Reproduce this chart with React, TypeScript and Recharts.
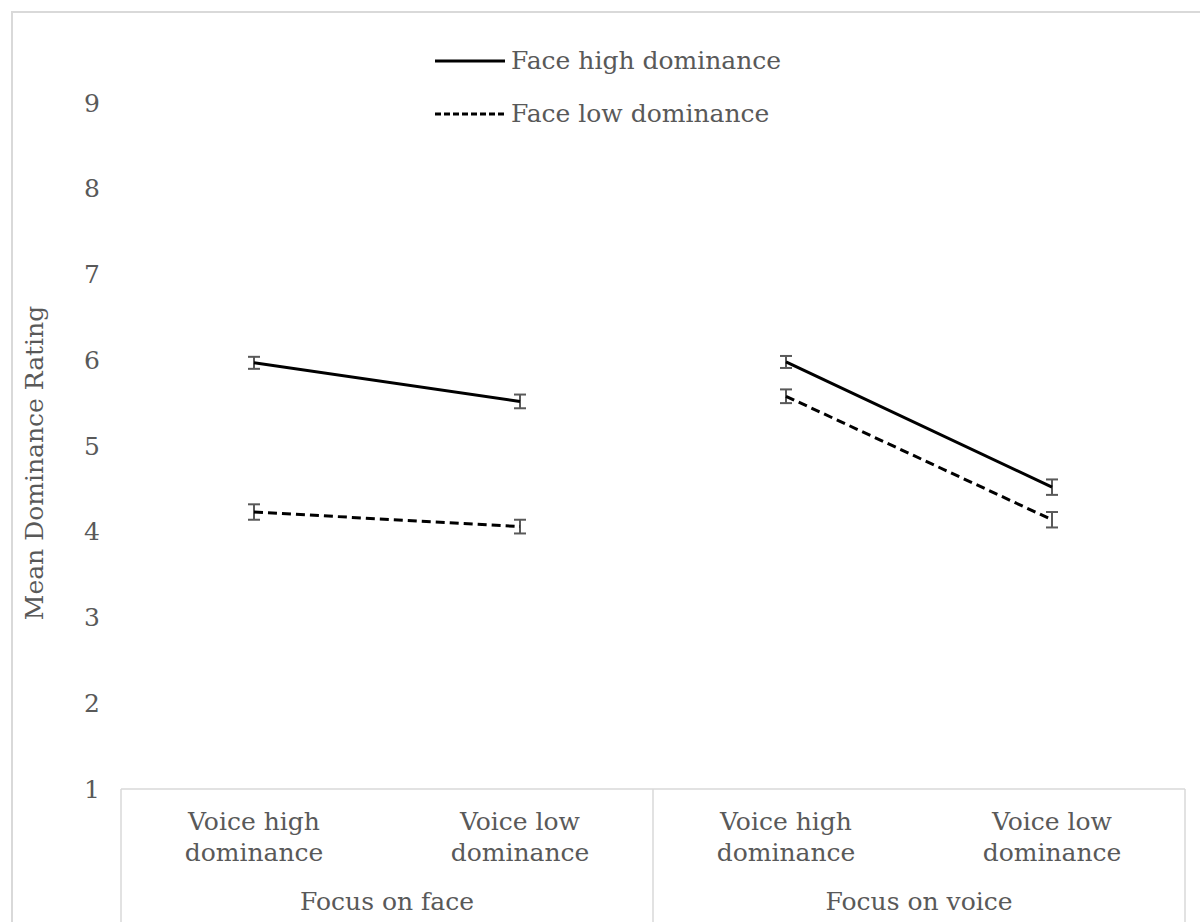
import React from 'react';
import { LineChart, Line, XAxis, YAxis, ErrorBar } from 'recharts';

const categories = ['Voice high dominance', 'Voice low dominance', 'Voice high dominance', 'Voice low dominance'];
const groups = ['Focus on face', 'Focus on voice'];
const yTicks = [1, 2, 3, 4, 5, 6, 7, 8, 9];

const faceHigh = [5.97, 5.52, 5.98, 4.52];
const faceHighErr = [0.07, 0.08, 0.07, 0.09];
const faceLow = [4.23, 4.06, 5.58, 4.14];
const faceLowErr = [0.09, 0.08, 0.08, 0.09];

const seriesNames = ['Face high dominance', 'Face low dominance'];

const FONT = "'DejaVu Serif', 'Liberation Serif', serif";
const FS = 25;
const TEXT = '#595959';
const GRID = '#d9d9d9';
const DASH = '9 5';
const HALF_BAND = 133; // half of one category slot, used as axis padding

// lines break between the two focus groups, so each group gets its own keys
const data = categories.map((cat, i) => {
  const first = i < 2;
  return {
    cat,
    fhA: first ? faceHigh[i] : null,
    fhAErr: first ? faceHighErr[i] : undefined,
    fhB: first ? null : faceHigh[i],
    fhBErr: first ? undefined : faceHighErr[i],
    flA: first ? faceLow[i] : null,
    flAErr: first ? faceLowErr[i] : undefined,
    flB: first ? null : faceLow[i],
    flBErr: first ? undefined : faceLowErr[i],
  };
});

const CategoryTick = (props: any) => {
  const { x, y, payload } = props;
  const idx = payload.index;
  const half = HALF_BAND;
  const words = String(payload.value).split(' ');
  const last = words.pop();
  return (
    <g>
      <text x={x} y={y + 41} textAnchor="middle" fill={TEXT} fontSize={FS} fontFamily={FONT}>
        {words.join(' ')}
      </text>
      <text x={x} y={y + 72} textAnchor="middle" fill={TEXT} fontSize={FS} fontFamily={FONT}>
        {last}
      </text>
      {idx % 2 === 0 && (
        <>
          <line x1={x - half} x2={x - half} y1={y} y2={y + 140} stroke={GRID} strokeWidth={1.5} />
          <text x={x + half} y={y + 121} textAnchor="middle" fill={TEXT} fontSize={FS} fontFamily={FONT}>
            {groups[idx / 2]}
          </text>
        </>
      )}
      {idx === categories.length - 1 && (
        <line x1={x + half} x2={x + half} y1={y} y2={y + 140} stroke={GRID} strokeWidth={1.5} />
      )}
    </g>
  );
};

const YTick = (props: any) => {
  const { y, payload } = props;
  return (
    <text x={92} y={y} textAnchor="middle" dominantBaseline="central" fill={TEXT} fontSize={FS} fontFamily={FONT}>
      {payload.value}
    </text>
  );
};

const ChartLegend = () => (
  <div style={{ position: 'absolute', left: 435, top: 34, fontFamily: FONT, fontSize: FS, color: TEXT }}>
    {seriesNames.map((name, i) => (
      <div key={name} style={{ display: 'flex', alignItems: 'center', height: 53 }}>
        <svg width={70} height={10} style={{ marginRight: 6 }}>
          <line x1={0} x2={70} y1={5} y2={5} stroke="#000" strokeWidth={3} strokeDasharray={i === 1 ? '6 3' : undefined} />
        </svg>
        <span>{name}</span>
      </div>
    ))}
  </div>
);

export default function App() {
  return (
    <div style={{ position: 'fixed', left: 0, top: 0, width: 1200, height: 922, overflow: 'hidden', background: '#fff' }}>
      <div style={{ position: 'absolute', left: 11, top: 11, width: 1300, height: 1000, border: `2px solid ${GRID}` }} />
      <div style={{ position: 'absolute', left: 0, top: 0 }}>
        <LineChart width={1200} height={922} data={data} margin={{ top: 103, right: 15, bottom: 0, left: 1 }}>
          <XAxis
            dataKey="cat"
            padding={{ left: HALF_BAND, right: HALF_BAND }}
            height={133}
            tickSize={0}
            tickMargin={0}
            tickLine={false}
            axisLine={{ stroke: GRID, strokeWidth: 1.5 }}
            tick={<CategoryTick />}
            interval={0}
          />
          <YAxis
            type="number"
            domain={[1, 9]}
            ticks={yTicks}
            width={120}
            axisLine={false}
            tickLine={false}
            tick={<YTick />}
            label={{
              value: 'Mean Dominance Rating',
              angle: -90,
              position: 'insideLeft',
              dx: 28,
              dy: 17,
              fill: TEXT,
              fontSize: FS,
              fontFamily: FONT,
              style: { textAnchor: 'middle' },
            }}
          />
          <Line dataKey="fhA" name={seriesNames[0]} stroke="#000" strokeWidth={3} dot={false} isAnimationActive={false} connectNulls={false}>
            <ErrorBar dataKey="fhAErr" stroke={TEXT} strokeWidth={2} width={6} />
          </Line>
          <Line dataKey="fhB" stroke="#000" strokeWidth={3} dot={false} isAnimationActive={false} connectNulls={false}>
            <ErrorBar dataKey="fhBErr" stroke={TEXT} strokeWidth={2} width={6} />
          </Line>
          <Line dataKey="flA" name={seriesNames[1]} stroke="#000" strokeWidth={3} strokeDasharray={DASH} dot={false} isAnimationActive={false} connectNulls={false}>
            <ErrorBar dataKey="flAErr" stroke={TEXT} strokeWidth={2} width={6} />
          </Line>
          <Line dataKey="flB" stroke="#000" strokeWidth={3} strokeDasharray={DASH} dot={false} isAnimationActive={false} connectNulls={false}>
            <ErrorBar dataKey="flBErr" stroke={TEXT} strokeWidth={2} width={6} />
          </Line>
        </LineChart>
      </div>
      <ChartLegend />
    </div>
  );
}
